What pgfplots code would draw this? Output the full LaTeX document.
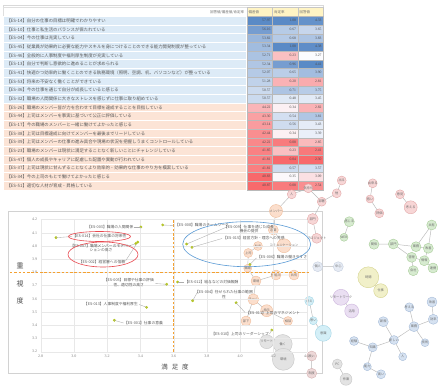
\documentclass[border=0pt]{standalone}
\usepackage{pgfplots}
\pgfplotsset{compat=1.18}
\usepackage{fontspec}
\setmainfont{Noto Sans CJK JP}
\newfontfamily\numfont{Liberation Serif}

\definecolor{txt}{HTML}{595959}
\definecolor{lblue}{HTML}{DDEBF7}
\definecolor{lpink}{HTML}{FCE4D6}
\definecolor{hyel}{HTML}{FFF4C4}
\definecolor{ptc}{HTML}{B4C51E}
\definecolor{dashor}{HTML}{F4A131}
\definecolor{ellred}{HTML}{E8484F}
\definecolor{ellblue}{HTML}{5B9BD5}
\definecolor{cr}{HTML}{F8696B}
\definecolor{cb}{HTML}{5A8AC6}
\definecolor{cw}{HTML}{FCFCFF}
\definecolor{pk}{HTML}{F7D6D6}\definecolor{pkd}{HTML}{E3A9A9}
\definecolor{pc}{HTML}{FBDECC}\definecolor{pcd}{HTML}{EFBC9B}
\definecolor{gr}{HTML}{D7EBD0}\definecolor{grd}{HTML}{A9CD9A}
\definecolor{lb}{HTML}{E6EBF4}\definecolor{lbd}{HTML}{C5CFDF}
\definecolor{ye}{HTML}{F1F0C9}\definecolor{yed}{HTML}{D5D38D}
\definecolor{pu}{HTML}{EADFF2}\definecolor{pud}{HTML}{CDB5DD}
\definecolor{cy}{HTML}{D4EFF7}\definecolor{cyd}{HTML}{A2D5E6}
\definecolor{bl}{HTML}{D6E2F1}\definecolor{bld}{HTML}{A8BDD9}
\definecolor{gy}{HTML}{E3E3E3}\definecolor{gyd}{HTML}{C6C6C6}
\definecolor{rg}{HTML}{EDD8D8}\definecolor{rgd}{HTML}{D5B2B2}

\pgfdeclareplotmark{cellL}{\pgfpathrectangle{\pgfpoint{-121.85bp}{-4.335bp}}{\pgfpoint{243.7bp}{8.67bp}}\pgfusepathqfillstroke}
\pgfdeclareplotmark{cellV}{\pgfpathrectangle{\pgfpoint{-12.75bp}{-4.335bp}}{\pgfpoint{25.5bp}{8.67bp}}\pgfusepathqfillstroke}

\pgfplotsset{
  canvas/.style={at={(0bp,0bp)}, anchor=south west, scale only axis, width=438bp, height=392bp,
    xmin=0, xmax=438, ymin=0, ymax=392, y dir=reverse, hide axis, clip=false},
  cellp/.style={only marks, mark=cellV, mark options={fill=#1, draw=gray!55, line width=0.4bp},
    point meta=explicit,
    nodes near coords={\pgfmathprintnumber[fixed,fixed zerofill,precision=2,assume math mode=true]{\pgfplotspointmeta}},
    nodes near coords align={anchor=east},
    every node near coord/.append style={xshift=11.2bp, font=\numfont\fontsize{3.7}{4}\selectfont, text=black!70, inner sep=0pt}},
  labcol/.style={only marks, mark=cellL, mark options={fill=#1, draw=white, line width=0.5bp},
    point meta=explicit symbolic, nodes near coords={\pgfplotspointmeta},
    nodes near coords align={anchor=west},
    every node near coord/.append style={xshift=-118.6bp, font=\fontsize{4.4}{4.8}\selectfont, text=txt, inner sep=0pt}},
  bubp/.style n args={3}{only marks, mark=*, mark size=#3, mark options={fill=#1, draw=#2, line width=0.4bp},
    point meta=explicit symbolic, nodes near coords={\pgfplotspointmeta},
    nodes near coords align={anchor=center},
    every node near coord/.append style={font=\fontsize{3.2}{3.5}\selectfont, text=gray!85!black, inner sep=0pt}},
}
\tikzset{lbl/.style={font=\fontsize{3.8}{4.4}\selectfont, text=txt, inner sep=0pt, align=center},
  lead/.style={gray!65, line width=0.35bp}}

\begin{document}
\begin{tikzpicture}
\useasboundingbox (0,0) rectangle (438bp,392bp);
\fill[white] (0,0) rectangle (438bp,392bp);

% ---------- table + chart frame + network ----------
\begin{axis}[canvas]
\draw[gray!30, line width=0.5bp] (axis cs:3,5) rectangle (axis cs:323.5,190);
% header
\addplot[only marks, mark=cellL, mark options={fill=white, draw=gray!25}, point meta=explicit symbolic,
  nodes near coords={\pgfplotspointmeta}, nodes near coords align={anchor=east},
  every node near coord/.append style={xshift=119.5bp, font=\fontsize{3.5}{4}\selectfont, text=txt!85, inner sep=0pt}]
  table[meta=lab]{x y lab
124.85 12.03 回答値/偏差値/肯定率
};
\addplot[only marks, mark=cellV, mark options={fill=hyel, draw=gray!45}, point meta=explicit symbolic,
  nodes near coords={\pgfplotspointmeta}, nodes near coords align={anchor=west},
  every node near coord/.append style={xshift=-11bp, font=\fontsize{3.5}{4}\selectfont, text=txt!85, inner sep=0pt}]
  table[meta=lab]{x y lab
259.45 12.03 偏差値
284.95 12.03 肯定率
310.45 12.03 回答値
};
% label column
\addplot[labcol=lblue] table[meta=lab]{x y lab
124.85 20.70 【ES-14】自分の仕事の目標は明確でわかりやすい
124.85 29.37 【ES-10】仕事と私生活のバランスが保たれている
124.85 38.04 【ES-04】今の仕事は充実している
124.85 46.71 【ES-45】従業員が効果的に必要な能力やスキルを身につけることのできる能力開発制度が整っている
124.85 55.38 【ES-46】全般的に人事制度や福利厚生制度が充実している
124.85 64.05 【ES-13】自分で判断し意欲的に進めることが求められる
124.85 72.72 【ES-41】快適かつ効率的に働くことのできる執務環境（照明、空調、机、パソコンなど）が整っている
124.85 81.39 【ES-53】将来の不安なく働くことができている
124.85 90.06 【ES-36】今の仕事を通じて自分が成長していると感じる
124.85 98.73 【ES-32】職場の人間関係に大きなストレスを感じずに仕事に取り組めている
};
\addplot[labcol=lpink] table[meta=lab]{x y lab
124.85 107.40 【ES-26】職場のメンバー皆が力を合わせて目標を達成することを目指している
124.85 116.07 【ES-44】上司はメンバーを事実に基づいて公正に評価している
124.85 124.74 【ES-17】今の職場のメンバーと一緒に働けてよかったと感じる
124.85 133.41 【ES-38】上司は目標達成に向けてメンバーを最後までリードしている
124.85 142.08 【ES-39】上司はメンバーの仕事の進み具合や現場の状況を把握しうまくコントロールしている
124.85 150.75 【ES-23】職場のメンバーは現状に満足することなく新しいことにチャレンジしている
124.85 159.42 【ES-47】個人の成長やキャリアに配慮した配置や異動が行われている
124.85 168.09 【ES-37】上司は現状に甘んずることなくより効率的・効果的な仕事のやり方を模索している
124.85 176.76 【ES-34】今の上司のもとで働けてよかったと感じる
124.85 185.43 【ES-51】適切な人材が育成・昇格している
};
% ---- 偏差値 column ----
\addplot[cellp=cb!100!cw] coordinates {(259.45,20.70) [57.97]};
\addplot[cellp=cb!83!cw] coordinates {(259.45,29.37) [56.16]};
\addplot[cellp=cb!61!cw] coordinates {(259.45,38.04) [53.82]};
\addplot[cellp=cb!56!cw] coordinates {(259.45,46.71) [53.34]};
\addplot[cellp=cb!50!cw] coordinates {(259.45,55.38) [52.71]};
\addplot[cellp=cb!47!cw] coordinates {(259.45,64.05) [52.34]};
\addplot[cellp=cb!44!cw] coordinates {(259.45,72.72) [52.07]};
\addplot[cellp=cb!37!cw] coordinates {(259.45,81.39) [51.28]};
\addplot[cellp=cb!30!cw] coordinates {(259.45,90.06) [50.57]};
\addplot[cellp=cb!30!cw] coordinates {(259.45,98.73) [50.57]};
\addplot[cellp=cr!48!cw] coordinates {(259.45,107.40) [44.22]};
\addplot[cellp=cr!62!cw] coordinates {(259.45,116.07) [43.30]};
\addplot[cellp=cr!65!cw] coordinates {(259.45,124.74) [43.14]};
\addplot[cellp=cr!75!cw] coordinates {(259.45,133.41) [42.44]};
\addplot[cellp=cr!79!cw] coordinates {(259.45,142.08) [42.22]};
\addplot[cellp=cr!84!cw] coordinates {(259.45,150.75) [41.85]};
\addplot[cellp=cr!85!cw] coordinates {(259.45,159.42) [41.81]};
\addplot[cellp=cr!85!cw] coordinates {(259.45,168.09) [41.81]};
\addplot[cellp=cr!100!cw] coordinates {(259.45,176.76) [40.83]};
\addplot[cellp=cr!99!cw] coordinates {(259.45,185.43) [40.87]};
% ---- 肯定率 column ----
\addplot[cellp=cb!100!cw] coordinates {(284.95,20.70) [1.08]};
\addplot[cellp=cb!43!cw] coordinates {(284.95,29.37) [0.67]};
\addplot[cellp=cb!44!cw] coordinates {(284.95,38.04) [0.68]};
\addplot[cellp=cb!100!cw] coordinates {(284.95,46.71) [1.08]};
\addplot[cellp=cr!41!cw] coordinates {(284.95,55.38) [0.23]};
\addplot[cellp=cb!83!cw] coordinates {(284.95,64.05) [0.96]};
\addplot[cellp=cb!40!cw] coordinates {(284.95,72.72) [0.65]};
\addplot[cellp=cr!50!cw] coordinates {(284.95,81.39) [0.20]};
\addplot[cellp=cb!49!cw] coordinates {(284.95,90.06) [0.71]};
\addplot[cellp=cb!17!cw] coordinates {(284.95,98.73) [0.48]};
\addplot[cellp=cr!8!cw] coordinates {(284.95,107.40) [0.34]};
\addplot[cellp=cb!25!cw] coordinates {(284.95,116.07) [0.54]};
\addplot[cellp=cb!28!cw] coordinates {(284.95,124.74) [0.56]};
\addplot[cellp=cr!8!cw] coordinates {(284.95,133.41) [0.34]};
\addplot[cellp=cr!88!cw] coordinates {(284.95,142.08) [0.08]};
\addplot[cellp=cr!41!cw] coordinates {(284.95,150.75) [0.23]};
\addplot[cellp=cr!100!cw] coordinates {(284.95,159.42) [0.04]};
\addplot[cellp=cb!29!cw] coordinates {(284.95,168.09) [0.57]};
\addplot[cellp=cr!3!cw] coordinates {(284.95,176.76) [0.35]};
\addplot[cellp=cr!88!cw] coordinates {(284.95,185.43) [0.08]};
% ---- 回答値 column ----
\addplot[cellp=cb!93!cw] coordinates {(310.45,20.70) [4.33]};
\addplot[cellp=cb!33!cw] coordinates {(310.45,29.37) [3.65]};
\addplot[cellp=cb!49!cw] coordinates {(310.45,38.04) [3.83]};
\addplot[cellp=cb!97!cw] coordinates {(310.45,46.71) [4.38]};
\addplot[cellp=cw] coordinates {(310.45,55.38) [3.27]};
\addplot[cellp=cb!100!cw] coordinates {(310.45,64.05) [4.41]};
\addplot[cellp=cb!55!cw] coordinates {(310.45,72.72) [3.90]};
\addplot[cellp=cr!55!cw] coordinates {(310.45,81.39) [2.81]};
\addplot[cellp=cb!42!cw] coordinates {(310.45,90.06) [3.75]};
\addplot[cellp=cb!16!cw] coordinates {(310.45,98.73) [3.45]};
\addplot[cellp=cr!50!cw] coordinates {(310.45,107.40) [2.82]};
\addplot[cellp=cb!47!cw] coordinates {(310.45,116.07) [3.81]};
\addplot[cellp=cb!14!cw] coordinates {(310.45,124.74) [3.43]};
\addplot[cellp=cb!11!cw] coordinates {(310.45,133.41) [3.39]};
\addplot[cellp=cr!45!cw] coordinates {(310.45,142.08) [2.85]};
\addplot[cellp=cr!89!cw] coordinates {(310.45,150.75) [2.41]};
\addplot[cellp=cr!100!cw] coordinates {(310.45,159.42) [2.30]};
\addplot[cellp=cb!26!cw] coordinates {(310.45,168.09) [3.57]};
\addplot[cellp=cr!19!cw] coordinates {(310.45,176.76) [3.09]};
\addplot[cellp=cr!75!cw] coordinates {(310.45,185.43) [2.54]};
% chart frame
\draw[gray!35, fill=white, line width=0.6bp] (axis cs:8,211) rectangle (axis cs:322,373);
% network edges
\addplot[gray!55, line width=0.45bp, unbounded coords=jump] coordinates {
(341.7,180.5) (336.7,193.3) (321.7,201.7) (312.7,219) (316.7,238.3) (nan,nan)
(291.7,194.3) (308.3,188.3) (321.7,201.7) (nan,nan)
(276,211) (291.7,194.3) (nan,nan)
(372.7,183.3) (370,199) (379.3,213.3) (nan,nan)
(400,194.3) (410.7,207.3) (nan,nan)
(276,211) (273.3,230) (284,245.7) (nan,nan)
(258,246) (248.3,253) (247.7,268.3) (256,281) (276,275) (294,275) (nan,nan)
(256,281) (253.3,299.3) (246,321) (nan,nan)
(253.3,299.3) (266.7,310.7) (288,321) (nan,nan)
(349.3,221.7) (344,237.3) (nan,nan)
(374,244.3) (393.3,244) (416,246.7) (428.3,248.3) (431.7,225) (416,246.7) (nan,nan)
(393.3,244) (411.7,257.3) (424.3,260.7) (428.3,248.3) (nan,nan)
(411.7,257.3) (413.3,270.7) (nan,nan)
(424.3,260.7) (433,268) (nan,nan)
(317.7,266.7) (338.3,266.7) (nan,nan)
(368.3,277.3) (380.7,290.7) (nan,nan)
(341,297.3) (351.7,311) (nan,nan)
(309.3,301) (313.3,320.7) (323.3,333.3) (nan,nan)
(409.3,307.3) (414,326.7) (433.3,319.3) (432,302) (nan,nan)
(414,326.7) (394,340) (372.7,347.3) (354,341) (nan,nan)
(383.3,321.7) (394,340) (402.7,356.7) (nan,nan)
(414,326.7) (425,342.7) (nan,nan)
(372.7,347.3) (367.3,366.7) (381,374.3) (nan,nan)
(282.7,344) (283.3,359.3) (nan,nan)
(282.7,344) (266.7,341.7) (nan,nan)
(337.3,364) (346,379.3) (nan,nan)
(311.7,356) (311.7,373.3)
};
% network nodes: pink
\addplot[bubp={pk}{pkd}{4.5}] coordinates {(291.7,194.3) [人]};
\addplot[bubp={pk}{pkd}{4.5}] coordinates {(308.3,188.3) [気持ち]};
\addplot[bubp={pk}{pkd}{4.5}] coordinates {(321.7,201.7) [部署]};
\addplot[bubp={pk}{pkd}{4.5}] coordinates {(336.7,193.3) [他]};
\addplot[bubp={pk}{pkd}{4.5}] coordinates {(341.7,180.5) [出る]};
\addplot[bubp={pk}{pkd}{5.5}] coordinates {(312.7,219) [部門]};
\addplot[bubp={pk}{pkd}{5}] coordinates {(316.7,238.3) [プロジェクト]};
\addplot[bubp={pk}{pkd}{4.5}] coordinates {(372.7,183.3) [出来る]};
\addplot[bubp={pk}{pkd}{4}] coordinates {(370,199) [低い]};
\addplot[bubp={pk}{pkd}{4.5}] coordinates {(379.3,213.3) [評価]};
\addplot[bubp={pk}{pkd}{4.5}] coordinates {(400,194.3) [意見]};
\addplot[bubp={pk}{pkd}{6.5}] coordinates {(410.7,207.3) [考える]};
% peach
\addplot[bubp={pc}{pcd}{6.5}] coordinates {(276,211) [メンバー]};
\addplot[bubp={pc}{pcd}{5}] coordinates {(273.3,230) [必要]};
\addplot[bubp={pc}{pcd}{4.5}] coordinates {(258,246) [社内]};
\addplot[bubp={pc}{pcd}{7}] coordinates {(284,245.7) [コミュニケーション]};
\addplot[bubp={pc}{pcd}{4.5}] coordinates {(248.3,253) [上司]};
\addplot[bubp={pc}{pcd}{4}] coordinates {(247.7,268.3) [職場]};
\addplot[bubp={pc}{pcd}{5}] coordinates {(256,281) [環境]};
\addplot[bubp={pc}{pcd}{5}] coordinates {(276,275) [仕組み]};
\addplot[bubp={pc}{pcd}{5}] coordinates {(294,275) [共有]};
\addplot[bubp={pc}{pcd}{5.5}] coordinates {(253.3,299.3) [チーム]};
\addplot[bubp={pc}{pcd}{5}] coordinates {(246,321) [部下]};
\addplot[bubp={pc}{pcd}{6}] coordinates {(266.7,310.7) [指示]};
\addplot[bubp={pc}{pcd}{4.5}] coordinates {(288,321) [相談]};
% green
\addplot[bubp={gr}{grd}{5}] coordinates {(349.3,221.7) [感じる]};
\addplot[bubp={gr}{grd}{4}] coordinates {(344,237.3) [WEB]};
\addplot[bubp={gr}{grd}{5}] coordinates {(374,244.3) [関係]};
\addplot[bubp={gr}{grd}{5}] coordinates {(393.3,244) [部門]};
\addplot[bubp={gr}{grd}{5}] coordinates {(416,246.7) [業務]};
\addplot[bubp={gr}{grd}{5}] coordinates {(428.3,248.3) [改善]};
\addplot[bubp={gr}{grd}{5}] coordinates {(431.7,225) [共有]};
\addplot[bubp={gr}{grd}{5}] coordinates {(411.7,257.3) [管理]};
\addplot[bubp={gr}{grd}{5}] coordinates {(424.3,260.7) [情報]};
\addplot[bubp={gr}{grd}{5}] coordinates {(413.3,270.7) [会社]};
\addplot[bubp={gr}{grd}{5}] coordinates {(433,268) [連携]};
% light blue-grey
\addplot[bubp={lb}{lbd}{5}] coordinates {(317.7,266.7) [個人]};
\addplot[bubp={lb}{lbd}{5}] coordinates {(338.3,266.7) [中心]};
% yellow
\addplot[bubp={ye}{yed}{10.5}] coordinates {(368.3,277.3) [時間]};
\addplot[bubp={ye}{yed}{7}] coordinates {(380.7,290.7) [仕事]};
% purple
\addplot[bubp={pu}{pud}{8}] coordinates {(341,297.3) [リモートワーク]};
\addplot[bubp={pu}{pud}{7}] coordinates {(351.7,311) [活用]};
% cyan
\addplot[bubp={cy}{cyd}{4.5}] coordinates {(309.3,301) [考え]};
\addplot[bubp={cy}{cyd}{4}] coordinates {(313.3,320.7) [思い]};
\addplot[bubp={cy}{cyd}{8}] coordinates {(323.3,333.3) [意識]};
% blue
\addplot[bubp={bl}{bld}{4.5}] coordinates {(409.3,307.3) [考える]};
\addplot[bubp={bl}{bld}{5}] coordinates {(383.3,321.7) [新規]};
\addplot[bubp={bl}{bld}{5}] coordinates {(414,326.7) [業務]};
\addplot[bubp={bl}{bld}{5}] coordinates {(433.3,319.3) [効率]};
\addplot[bubp={bl}{bld}{5}] coordinates {(432,302) [改善]};
\addplot[bubp={bl}{bld}{4.5}] coordinates {(394,340) [新しい]};
\addplot[bubp={bl}{bld}{4.5}] coordinates {(354,341) [経験]};
\addplot[bubp={bl}{bld}{4.5}] coordinates {(372.7,347.3) [知識]};
\addplot[bubp={bl}{bld}{4}] coordinates {(425,342.7) [技術]};
\addplot[bubp={bl}{bld}{4}] coordinates {(402.7,356.7) [人]};
\addplot[bubp={bl}{bld}{4}] coordinates {(367.3,366.7) [能力]};
\addplot[bubp={bl}{bld}{4.5}] coordinates {(381,374.3) [高い]};
% grey
\addplot[bubp={gy}{gyd}{7}] coordinates {(266.7,341.7) [リモート]};
\addplot[bubp={gy}{gyd}{9.5}] coordinates {(282.7,344) [働く]};
\addplot[bubp={gy}{gyd}{11}] coordinates {(283.3,359.3) [環境]};
\addplot[bubp={gy}{gyd}{5}] coordinates {(337.3,364) [PC]};
\addplot[bubp={gy}{gyd}{6}] coordinates {(346,379.3) [作業]};
% rose-grey
\addplot[bubp={rg}{rgd}{5}] coordinates {(311.7,356) [良い]};
\addplot[bubp={rg}{rgd}{5}] coordinates {(311.7,373.3) [制度]};
\end{axis}

% ---------- scatter chart ----------
\begin{axis}[at={(40.7bp,40.3bp)}, anchor=south west, scale only axis, width=266bp, height=132bp,
  xmin=2.8, xmax=4.4, ymin=3.2, ymax=4.2, clip=false,
  xtick={2.8,3.0,3.2,3.4,3.6,3.8,4.0,4.2,4.4},
  ytick={3.2,3.3,3.4,3.5,3.6,3.7,3.8,3.9,4.0,4.1,4.2},
  grid=major, grid style={draw=gray!18, line width=0.4bp},
  axis line style={draw=none}, major tick length=0pt,
  tick label style={font=\numfont\fontsize{4}{4}\selectfont, text=gray},
  /pgf/number format/assume math mode=true,
  /pgf/number format/fixed, /pgf/number format/fixed zerofill, /pgf/number format/precision=1]
\addplot[dashor, dashed, line width=0.9bp, dash pattern=on 2.5bp off 1.8bp] coordinates {(3.6,3.2) (3.6,4.2)};
\addplot[dashor, dashed, line width=0.9bp, dash pattern=on 2.5bp off 1.8bp] coordinates {(2.615,3.8) (4.42,3.8)};
\addplot[only marks, mark=*, mark size=1.2bp, color=ptc] coordinates {
(2.892,4.064) (3.403,4.145) (3.534,4.160) (3.372,4.020) (3.384,4.030)
(3.558,3.711) (3.624,3.728) (3.437,3.536) (3.243,3.438) (3.714,3.586)
(3.975,3.571) (4.190,3.364) (3.678,4.016) (3.710,3.991) (4.059,3.862)};
\end{axis}

% ---------- annotations ----------
\begin{axis}[canvas]
\draw[lead] (axis cs:56,237.7) -- (axis cs:72,236.5);
\node[lbl] at (axis cs:99.5,236.5) {【ES-014】会社の仕事の将来性};
\draw[lead] (axis cs:134,227) -- (axis cs:141,227);
\node[lbl, anchor=east] at (axis cs:133.5,227) {【ES-003】職場の人間関係};
\draw[lead] (axis cs:162.7,225) -- (axis cs:174,225.5);
\node[lbl, anchor=west] at (axis cs:175,225.5) {【ES-008】職場のチームワーク};
\draw[lead] (axis cs:130,245.5) -- (axis cs:135,244);
\node[lbl] at (axis cs:101,248) {【ES-007】職場メンバーのモチベー\\ションの高さ};
\draw[lead] (axis cs:125.5,261) -- (axis cs:136.5,244);
\node[lbl] at (axis cs:102,262.3) {【ES-002】経営層への信頼};
\draw[lead] (axis cs:155,283.5) -- (axis cs:166.7,284.3);
\node[lbl, anchor=east] at (axis cs:154,282.7) {【ES-005】目標や仕事の評価\\性、適切性の高さ};
\draw[lead] (axis cs:177.7,282) -- (axis cs:184,282);
\node[lbl, anchor=west] at (axis cs:184.5,282) {【ES-012】給与などの対価報酬};
\draw[lead] (axis cs:139,304.5) -- (axis cs:146.7,307.3);
\node[lbl, anchor=east] at (axis cs:138,304.5) {【ES-013】人事制度や福利厚生};
\draw[lead] (axis cs:114.3,320.3) -- (axis cs:123.5,323);
\node[lbl, anchor=west] at (axis cs:124,323.3) {【ES-001】仕事の意義};
\draw[lead] (axis cs:192.7,300.7) -- (axis cs:197.5,292);
\node[lbl] at (axis cs:224,294.5) {【ES-004】任せられた仕事の範囲\\性};
\draw[lead] (axis cs:236,302.7) -- (axis cs:245,312.5);
\node[lbl, anchor=west] at (axis cs:246,313.5) {【ES-011】上司のマネジメント};
\draw[lead] (axis cs:269.5,334) -- (axis cs:271.7,330);
\node[lbl, anchor=east] at (axis cs:269,334.5) {【ES-010】上司のリーダーシップ};
\draw[lead] (axis cs:186.7,244) -- (axis cs:228,226.5);
\node[lbl] at (axis cs:249,229) {【ES-009】仕事を通じた成長\\機会の提供};
\draw[lead] (axis cs:192,247.3) -- (axis cs:222,238.5);
\node[lbl, anchor=west] at (axis cs:223,238.3) {【ES-015】経営方針・理念への共感};
\draw[lead] (axis cs:250,264.3) -- (axis cs:256.5,258);
\node[lbl, anchor=west] at (axis cs:257,257.3) {【ES-006】職場の働きやすさ};
% ellipses
\draw[ellred, line width=0.6bp] (axis cs:99.5,236.5) ellipse [x radius=31bp, y radius=5bp];
\draw[ellred, line width=0.6bp] (axis cs:103,254.5) ellipse [x radius=35bp, y radius=12.5bp];
\draw[ellblue, line width=0.6bp] (axis cs:246.7,244.2) ellipse [x radius=64bp, y radius=22.5bp];
% axis titles
\node[font=\fontsize{7}{7}\selectfont, text=black!70] at (axis cs:20,266) {重};
\node[font=\fontsize{7}{7}\selectfont, text=black!70] at (axis cs:20,284) {視};
\node[font=\fontsize{7}{7}\selectfont, text=black!70] at (axis cs:20,301) {度};
\node[font=\fontsize{6.5}{6.5}\selectfont, text=black!70] at (axis cs:175,367) {満\hspace{4bp}足\hspace{4bp}度};
\end{axis}
\end{tikzpicture}
\end{document}
